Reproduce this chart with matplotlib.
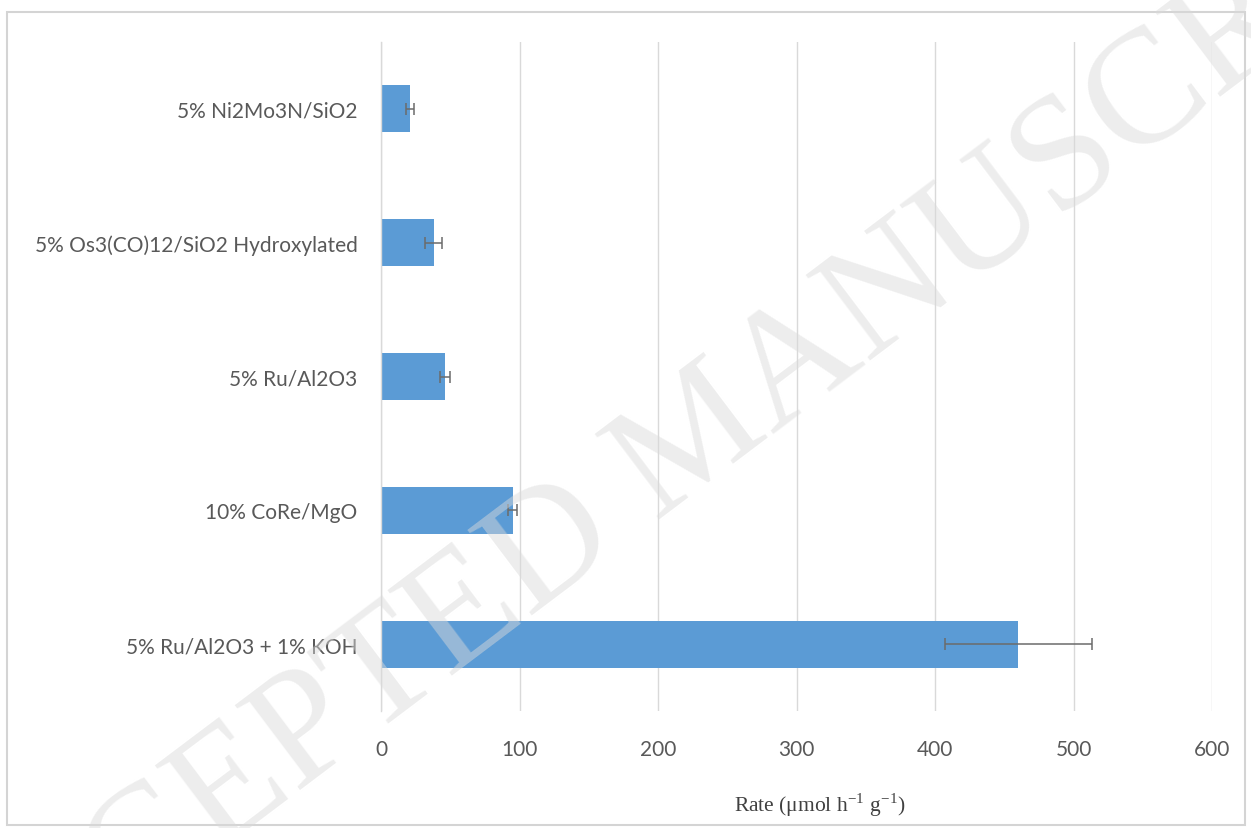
import matplotlib
matplotlib.use("Agg")
import matplotlib.pyplot as plt
from matplotlib.patches import Rectangle

# Catalyst activity data (top to bottom as displayed)
catalysts = [
    "5% Ni2Mo3N/SiO2",
    "5% Os3(CO)12/SiO2 Hydroxylated",
    "5% Ru/Al2O3",
    "10% CoRe/MgO",
    "5% Ru/Al2O3 + 1% KOH",
]
rates = [21, 38, 46, 95, 460]
rate_errors = [3, 6, 3.5, 3.5, 53]
x_ticks = [0, 100, 200, 300, 400, 500, 600]

W, H = 1251, 829
fig = plt.figure(figsize=(W / 100, H / 100), dpi=100)
fig.patch.set_facecolor("white")

# Outer chart frame
fig.patches.append(Rectangle((7 / W, 1 - 826 / H), (1245 - 7) / W, (826 - 13) / H,
                             transform=fig.transFigure, fill=False,
                             edgecolor="#d4d4d4", linewidth=1.5, zorder=0))

ax = fig.add_axes([381 / W, 1 - 712 / H, (1212 - 381) / W, (712 - 43) / H])

ypos = list(range(len(catalysts)))
ax.barh(ypos, rates, height=0.35, color="#5b9bd5", zorder=3)
ax.errorbar(rates, ypos, xerr=rate_errors, fmt="none", ecolor="#6b6b6b",
            elinewidth=1.1, capsize=4.5, capthick=1.1, zorder=4)

ax.set_xlim(0, 600)
ax.set_ylim(len(catalysts) - 0.5, -0.5)
ax.set_xticks(x_ticks)
ax.set_xticklabels([str(t) for t in x_ticks])
ax.set_yticks(ypos)
ax.set_yticklabels(catalysts)

label_font = "Lato"
for lbl in ax.get_xticklabels() + ax.get_yticklabels():
    lbl.set_fontfamily(label_font)
    lbl.set_fontsize(15)
    lbl.set_color("#595959")

ax.tick_params(axis="x", length=0, pad=20)
ax.tick_params(axis="y", length=0, pad=17)

ax.grid(axis="x", color="#d9d9d9", linewidth=1.0, zorder=0)
ax.set_axisbelow(True)
for side in ["top", "right", "bottom"]:
    ax.spines[side].set_visible(False)
ax.spines["left"].set_color("#d9d9d9")
ax.spines["left"].set_linewidth(1.0)
ax.spines["left"].set_zorder(5)

plt.rcParams["mathtext.fontset"] = "stix"
fig.text(820 / W, 1 - 805 / H, r"Rate (μmol h$^{\mathregular{-1}}$ g$^{\mathregular{-1}}$)",
         ha="center", va="center", fontsize=15.5, color="#404040",
         family="Liberation Serif")

# Diagonal watermark
fig.text(700 / W, 1 - 440 / H, "ACCEPTED MANUSCRIPT", ha="center", va="center",
         rotation=37, rotation_mode="anchor", fontsize=118,
         family="Liberation Serif", color="#dadada", alpha=0.48, zorder=10)

fig.savefig("out.png", dpi=100, facecolor="white")
